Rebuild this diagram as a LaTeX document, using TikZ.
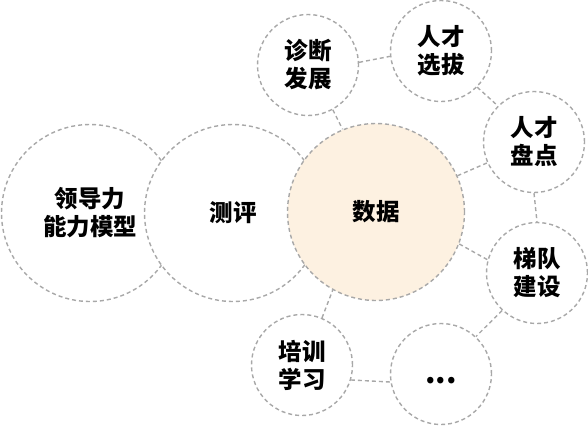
\documentclass[tikz,border=0pt]{standalone}
\usepackage{fontspec}
\newfontfamily\cjk{Noto Sans CJK SC}[BoldFont={Noto Sans CJK SC Black}]
\definecolor{dashgray}{HTML}{A8A8A8}
\definecolor{peach}{HTML}{FDF1E1}
\definecolor{ink}{HTML}{000000}
\begin{document}
\begin{tikzpicture}[x=1pt,y=-1pt,
  bubble/.style={circle,draw=dashgray,line width=1.4pt,dash pattern=on 4pt off 3pt,
    fill=white,inner sep=0pt,align=center,text=ink,
    font=\cjk\bfseries\fontsize{23.5}{28}\selectfont},
  big/.style={bubble,minimum size=177pt},
  small/.style={bubble,minimum size=101pt},
  conn/.style={draw=dashgray,line width=1.4pt,dash pattern=on 4pt off 3pt}]
\useasboundingbox (0,0) rectangle (588,426);
\node[big] (ldl) at (90,213) {领导力\\能力模型};
\node[big] (cp) at (233,213) {测评};
\node[big,fill=peach] (sj) at (376,212) {数据};
\node[small] (zd) at (308,65) {诊断\\发展};
\node[small] (xb) at (441,51) {人才\\选拔};
\node[small] (pd) at (534,142) {人才\\盘点};
\node[small] (td) at (537,273) {梯队\\建设};
\node[small,font=\cjk\bfseries\fontsize{30}{30}\selectfont] (dots) at (441,374) {\raisebox{-7pt}[\height][\depth]{...}};
\node[small] (px) at (302,365) {培训\\学习};
\draw[conn] (zd.3) -- (xb.186);
\draw[conn] (xb.-45) -- (pd.135);
\draw[conn] (pd.-90) -- (td.90);
\draw[conn] (td.-133) -- (dots.47);
\draw[conn] (px.-17) -- (dots.189);
\draw[conn] (px.67) -- (sj.241.5);
\draw[conn] (sj.-21.6) -- (td.165);
\draw[conn] (sj.24.5) -- (pd.204.5);
\draw[conn] (zd.-61) -- (sj.112.5);
\end{tikzpicture}
\end{document}
